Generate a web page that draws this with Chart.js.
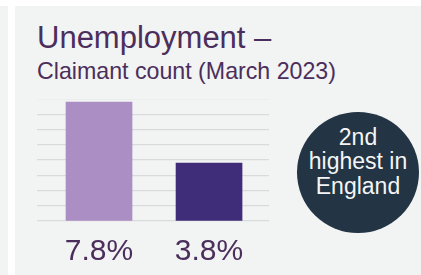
<!DOCTYPE html>
<html>
<head>
<meta charset="utf-8">
<script src="https://cdn.jsdelivr.net/npm/chart.js@4"></script>
<style>
  html, body { margin: 0; padding: 0; background: #ffffff; }
  body { width: 421px; height: 275px; position: relative; overflow: hidden; font-family: "Liberation Sans", Arial, sans-serif; }
  .strip { position: absolute; left: 0; top: 6px; width: 8px; height: 269px; background: #f2f3f3; }
  .panel { position: absolute; left: 15px; top: 6px; width: 406px; height: 269px; background: #f2f3f3; }
  .title { position: absolute; left: 37px; top: 20px; font-size: 31px; color: #4b2e5b; white-space: nowrap; }
  .subtitle { position: absolute; left: 37px; top: 58px; font-size: 23.2px; color: #4b2e5b; white-space: nowrap; }
  .chart-box { position: absolute; left: 37px; top: 99px; width: 232px; height: 176px; }
  .badge { position: absolute; left: 297px; top: 112px; width: 122px; height: 121px; border-radius: 50%; background: #233444;
           color: #f4f5f6; font-size: 23px; line-height: 24.5px; text-align: center; display: flex; align-items: center; justify-content: center; }
  .badge div { padding-bottom: 22px; }
</style>
</head>
<body>
<div class="strip"></div>
<div class="panel"></div>
<div class="title">Unemployment –</div>
<div class="subtitle">Claimant count (March 2023)</div>
<div class="chart-box"><canvas id="bar-chart"></canvas></div>
<div class="badge"><div>2nd<br>highest in<br>England</div></div>
<script>
// chart values
const categories = ['7.8%', '3.8%'];
const rates = [7.8, 3.8];
const barColors = ['#ab8ec3', '#3f2d7a'];

document.addEventListener('DOMContentLoaded', function() {
  const ctx = document.getElementById('bar-chart').getContext('2d');
  new Chart(ctx, {
    type: 'bar',
    data: {
      datasets: [{
        data: rates.map((v, i) => ({ x: i, y: v })),
        backgroundColor: barColors,
        barThickness: 66
      }]
    },
    options: {
      responsive: true,
      maintainAspectRatio: false,
      animation: false,
      layout: { padding: 0 },
      plugins: { legend: { display: false }, tooltip: { enabled: false } },
      scales: {
        x: {
          type: 'linear',
          offset: false,
          min: -0.5636,
          max: 1.545,
          afterBuildTicks: function(axis) {
            axis.ticks = categories.map((c, i) => ({ value: i }));
          },
          ticks: {
            callback: function(value) { return categories[value]; },
            font: { family: '"Liberation Sans", Arial, sans-serif', size: 30 },
            color: '#4b2e5b',
            padding: 5,
            maxRotation: 0,
            autoSkip: false
          },
          grid: { display: false, offset: false },
          border: { display: false }
        },
        y: {
          min: 0,
          max: 8,
          ticks: { display: false, stepSize: 1 },
          grid: { color: '#d9dadb', lineWidth: 1.3, drawTicks: false },
          border: { display: false }
        }
      }
    }
  });
});
</script>
</body>
</html>
